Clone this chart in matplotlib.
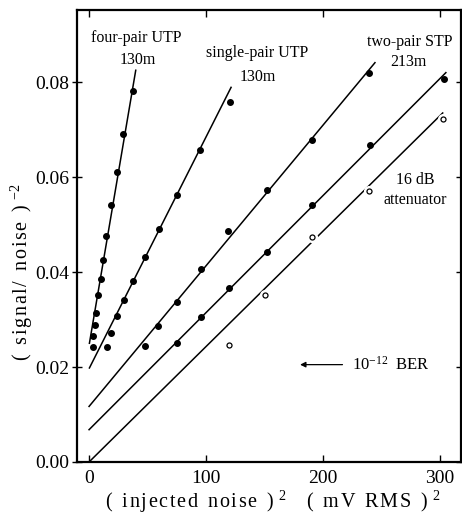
import numpy as np
import matplotlib
matplotlib.use("Agg")
from matplotlib import pyplot as plt

plt.rcParams['font.family'] = ['Liberation Serif', 'DejaVu Serif']
plt.rcParams['mathtext.fontset'] = 'custom'
plt.rcParams['mathtext.rm'] = 'Liberation Serif'
plt.rcParams['mathtext.it'] = 'Liberation Serif:italic'

four_x = [3.2, 3.7, 4.9, 6.0, 7.9, 10.0, 12.2, 14.5, 18.8, 23.7, 29.3, 37.4]
four_y = [0.0242, 0.0265, 0.0289, 0.0314, 0.0351, 0.0386, 0.0426, 0.0476, 0.0541, 0.0611, 0.0691, 0.0782]

single_x = [15.1, 18.8, 24.2, 29.9, 37.9, 47.9, 59.6, 75.0, 94.9, 120.5]
single_y = [0.0243, 0.0271, 0.0307, 0.0342, 0.0382, 0.0432, 0.0491, 0.0562, 0.0657, 0.0758]

stp_x = [48.1, 59.2, 75.0, 95.5, 118.8, 151.9, 190.3, 239.6]
stp_y = [0.0245, 0.0286, 0.0337, 0.0406, 0.0486, 0.0573, 0.0678, 0.0820]

stp2_x = [75.0, 95.5, 119.4, 151.9, 190.3, 240.2, 303.1]
stp2_y = [0.0250, 0.0306, 0.0366, 0.0443, 0.0542, 0.0667, 0.0806]

att_x = [119.4, 150.7, 190.3, 239.6, 302.8]
att_y = [0.0246, 0.0351, 0.0474, 0.0570, 0.0723]

# fitted lines (end points as drawn)
four_fit_x, four_fit_y = [0.3, 39.9], [0.0250, 0.0825]
single_fit_x, single_fit_y = [0.3, 121.4], [0.0198, 0.0789]
stp_fit_x, stp_fit_y = [0.0, 244.4], [0.0117, 0.0841]
stp2_fit_x, stp2_fit_y = [0.0, 305.0], [0.0068, 0.0820]
att_fit_x, att_fit_y = [0.0, 302.3], [0.0, 0.0735]

ber_level = 0.0205


def spaced(s):
    # loose letter spacing like the original typesetting
    return "  ".join("\u200a".join(w) for w in s.split(" "))


fig = plt.figure(figsize=(4.62, 5.16), dpi=100)
ax = fig.add_axes([0.1667, 0.1047, 0.8313, 0.876])

lw = 1.1
for fx, fy in [(four_fit_x, four_fit_y), (single_fit_x, single_fit_y),
               (stp_fit_x, stp_fit_y), (stp2_fit_x, stp2_fit_y), (att_fit_x, att_fit_y)]:
    ax.plot(fx, fy, color="black", lw=lw)

for px, py in [(four_x, four_y), (single_x, single_y), (stp_x, stp_y), (stp2_x, stp2_y)]:
    ax.plot(px, py, "o", color="black", ms=4.0, ls="none")

# open circles break the line
ax.plot(att_x, att_y, "o", ms=7, mfc="white", mec="white", ls="none")
ax.plot(att_x, att_y, "o", ms=3.6, mfc="white", mec="black", mew=0.9, ls="none")

tsize = 11.5
ax.text(40.6, 0.0892, "four-pair UTP", ha="center", va="center", fontsize=tsize)
ax.text(41.5, 0.0846, "130m", ha="center", va="center", fontsize=tsize)
ax.text(143.6, 0.0861, "single-pair UTP", ha="center", va="center", fontsize=tsize)
ax.text(144.0, 0.0811, "130m", ha="center", va="center", fontsize=tsize)
ax.text(274.0, 0.0884, "two-pair STP", ha="center", va="center", fontsize=tsize)
ax.text(273.0, 0.0842, "213m", ha="center", va="center", fontsize=tsize)
ax.text(278.6, 0.0594, "16 dB", ha="center", va="center", fontsize=tsize)
ax.text(278.6, 0.0552, "attenuator", ha="center", va="center", fontsize=tsize)

ax.annotate("", xy=(178, ber_level), xytext=(219, ber_level),
            arrowprops=dict(arrowstyle="-|>", color="black", lw=0.9, mutation_scale=8))
ax.text(224.5, ber_level, r"10$^{-12}$  BER", ha="left", va="center", fontsize=12)

ax.set_xlim(-10.3, 318)
ax.set_ylim(0, 0.0952)
ax.set_xticks([0, 100, 200, 300])
ax.set_yticks([0.00, 0.02, 0.04, 0.06, 0.08])
ax.set_yticklabels(["0.00", "0.02", "0.04", "0.06", "0.08"])
ax.tick_params(axis="x", direction="in", top=True, length=5, width=1, labelsize=14, pad=6)
ax.tick_params(axis="y", direction="inout", right=True, length=7, width=1, labelsize=14, pad=2)
for s in ax.spines.values():
    s.set_linewidth(1.6)

xlab = spaced("( injected noise )") + r" $^{2}$    " + spaced("( mV RMS )") + r" $^{2}$"
ylab = spaced("( signal/ noise )") + r" $^{-2}$"
ax.set_xlabel(xlab, fontsize=14.5)
ax.set_ylabel(ylab, fontsize=14.5)
ax.xaxis.set_label_coords(0.51, -0.06)
ax.yaxis.set_label_coords(-0.11, 0.42)

fig.savefig("out.png", dpi=100)
